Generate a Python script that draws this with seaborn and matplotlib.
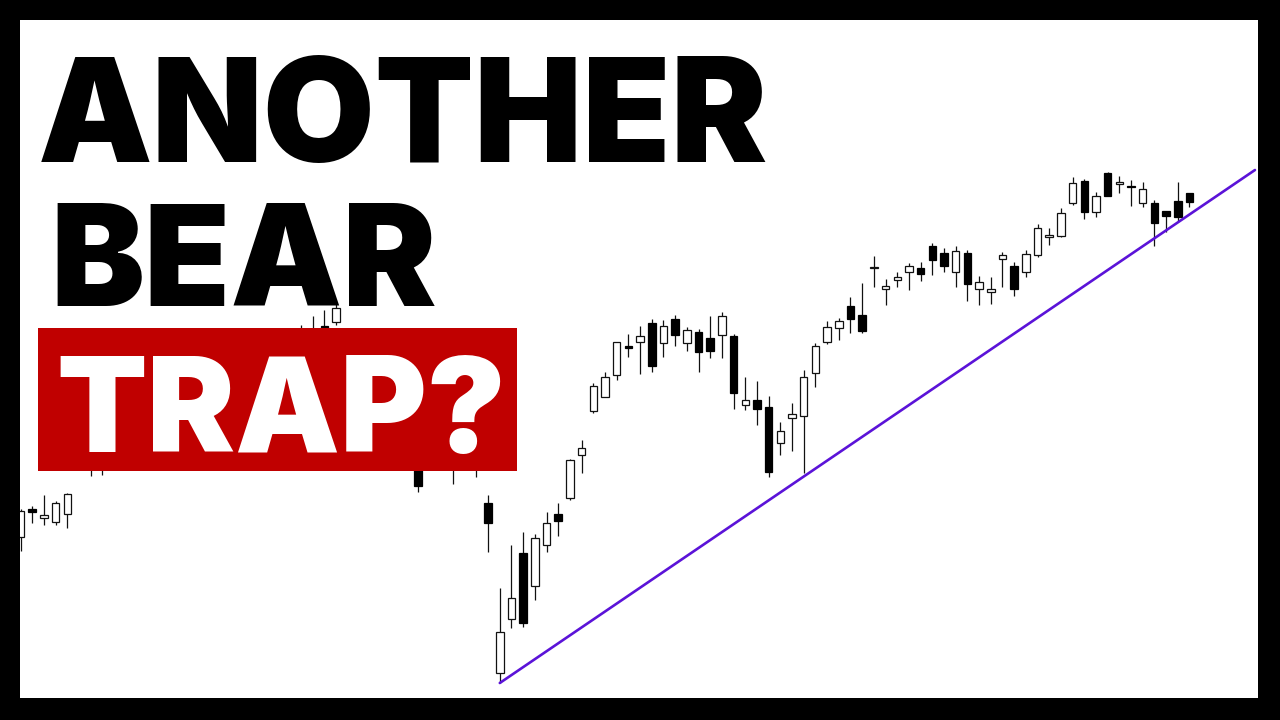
import numpy as np
import pandas as pd
import matplotlib
matplotlib.use("Agg")
import matplotlib.pyplot as plt
import seaborn as sns
from matplotlib.patches import Rectangle
from matplotlib.textpath import TextPath
from matplotlib.font_manager import FontProperties

# ---- candle data (index = trading session, values in chart price units) ----
opens = [183, 211, 202, 198, 206, 252, 270, 262, 265, 288,
         280, 288, 310, 302, 310, 330, 325, 334, 354, 348,
         354, 374, 368, 372, 375, 378, 394, 398, 385, 375,
         348, 352, 340, 325, 270, 260, 272, 280, 258, 270,
         217, 47, 101, 167, 134, 175, 206, 222, 265, 309,
         323, 345, 374, 378, 397, 377, 401, 377, 388, 382,
         385, 384, 315, 320, 313, 277, 302, 304, 347, 378,
         392, 414, 405, 452, 431, 440, 448, 452, 474, 467,
         448, 467, 431, 428, 461, 454, 448, 465, 483, 484,
         517, 539, 508, 547, 536, 534, 517, 517, 509, 519,
         527]
highs = [211, 214, 225, 219, 227, 270, 276, 282, 288, 295,
         300, 310, 316, 322, 330, 336, 346, 354, 360, 366,
         374, 380, 386, 388, 395, 404, 410, 417, 390, 382,
         372, 360, 348, 332, 280, 288, 296, 290, 282, 278,
         225, 132, 175, 188, 186, 208, 217, 261, 280, 337,
         348, 378, 386, 394, 401, 400, 405, 393, 391, 404,
         408, 386, 343, 339, 324, 298, 317, 350, 377, 399,
         402, 423, 437, 464, 441, 448, 457, 458, 477, 472,
         474, 470, 444, 443, 468, 458, 470, 496, 492, 512,
         543, 541, 528, 548, 544, 540, 538, 520, 509, 538,
         527]
lows = [169, 197, 195, 195, 192, 250, 244, 245, 258, 268,
        274, 282, 290, 296, 304, 312, 320, 328, 336, 342,
        348, 354, 362, 366, 368, 370, 375, 395, 362, 352,
        340, 328, 312, 292, 228, 252, 258, 236, 250, 243,
        168, 37, 92, 93, 120, 168, 184, 220, 247, 307,
        323, 340, 363, 346, 348, 363, 374, 369, 348, 362,
        362, 311, 310, 295, 243, 265, 269, 247, 333, 376,
        380, 387, 387, 433, 415, 433, 430, 439, 445, 448,
        433, 419, 415, 416, 433, 424, 443, 463, 475, 483,
        515, 501, 503, 524, 527, 514, 513, 474, 488, 499,
        513]
closes = [209, 208, 205, 217, 226, 265, 258, 275, 280, 274,
          292, 302, 295, 315, 324, 318, 340, 348, 342, 360,
          368, 360, 380, 382, 385, 388, 384, 412, 370, 360,
          365, 335, 320, 300, 234, 280, 290, 262, 275, 255,
          197, 88, 122, 97, 182, 197, 199, 260, 272, 334,
          343, 378, 372, 384, 354, 394, 385, 390, 368, 369,
          404, 327, 320, 311, 248, 289, 306, 343, 374, 393,
          399, 401, 389, 452, 434, 443, 454, 446, 460, 454,
          469, 436, 438, 431, 465, 431, 466, 492, 485, 507,
          537, 508, 524, 524, 538, 533, 531, 497, 504, 503,
          518]

# ---- support trendline ----
trend_x = [41, 105.6]
trend_y = [37, 550]

# ---- thumbnail text ----
headline_lines = ["ANOTHER", "BEAR"]
badge_label = "TRAP?"

FONT = 'Inter'

sns.set_theme(style="white")
plt.rcParams['font.family'] = [FONT, 'DejaVu Sans']

W, H = 1280, 720
fig = plt.figure(figsize=(12.8, 7.2), dpi=100, facecolor='black')
ax = fig.add_axes([20 / W, 22 / H, 1238 / W, 678 / H])
ax.set_facecolor('white')

df = pd.DataFrame(dict(open=opens, high=highs, low=lows, close=closes))
df['i'] = np.arange(len(df))
up = (df['close'] >= df['open']).values
body_bottom = np.minimum(df['open'], df['close'])
body_h = np.maximum(np.abs(df['close'] - df['open']), 1.0)

ax.vlines(df['i'], df['low'], df['high'], color='#111111', lw=0.9, zorder=1)
ax.bar(df['i'][up], body_h[up], bottom=body_bottom[up], width=0.64,
       color='white', edgecolor='#111111', linewidth=0.9, zorder=2)
ax.bar(df['i'][~up], body_h[~up], bottom=body_bottom[~up], width=0.64,
       color='black', edgecolor='black', linewidth=0.9, zorder=2)
sns.lineplot(x=trend_x, y=trend_y, ax=ax, color='#5B13D8', linewidth=1.9, zorder=3)

ax.set_xlim(-0.043, 105.86)
ax.set_ylim(22, 700)
ax.set_xticks([])
ax.set_yticks([])
for s in ax.spines.values():
    s.set_visible(False)

# red badge
fig.add_artist(Rectangle((38 / W, 1 - 471 / H), (517 - 38) / W, (471 - 328) / H,
                         transform=fig.transFigure, facecolor='#C00000',
                         edgecolor='none', zorder=4))

fig.canvas.draw()
renderer = fig.canvas.get_renderer()
fp = FontProperties(family=FONT, weight='black')
cap_pt100 = TextPath((0, 0), "H", size=100, prop=fp).get_extents().height  # points at size 100


def place(text, x_left, baseline, target_w, target_cap, color, wfrac=0.85):
    t = fig.text(x_left / W, 1 - baseline / H, text, ha='left', va='baseline',
                 fontsize=100, fontweight='black', color=color, zorder=5,
                 family=[FONT, 'DejaVu Sans'])
    w = t.get_window_extent(renderer).width
    s_w = 100 * target_w / w
    s_h = 100 * target_cap / (cap_pt100 * 100 / 72)
    t.set_fontsize(wfrac * s_w + (1 - wfrac) * s_h)
    return t


place(headline_lines[0], 38, 162, 718, 115, 'black')
place(headline_lines[1], 50, 306, 378, 115, 'black')
place(badge_label, 56, 452, 450, 115, 'white', wfrac=1.0)

fig.savefig('out.png', dpi=100, facecolor='black')
